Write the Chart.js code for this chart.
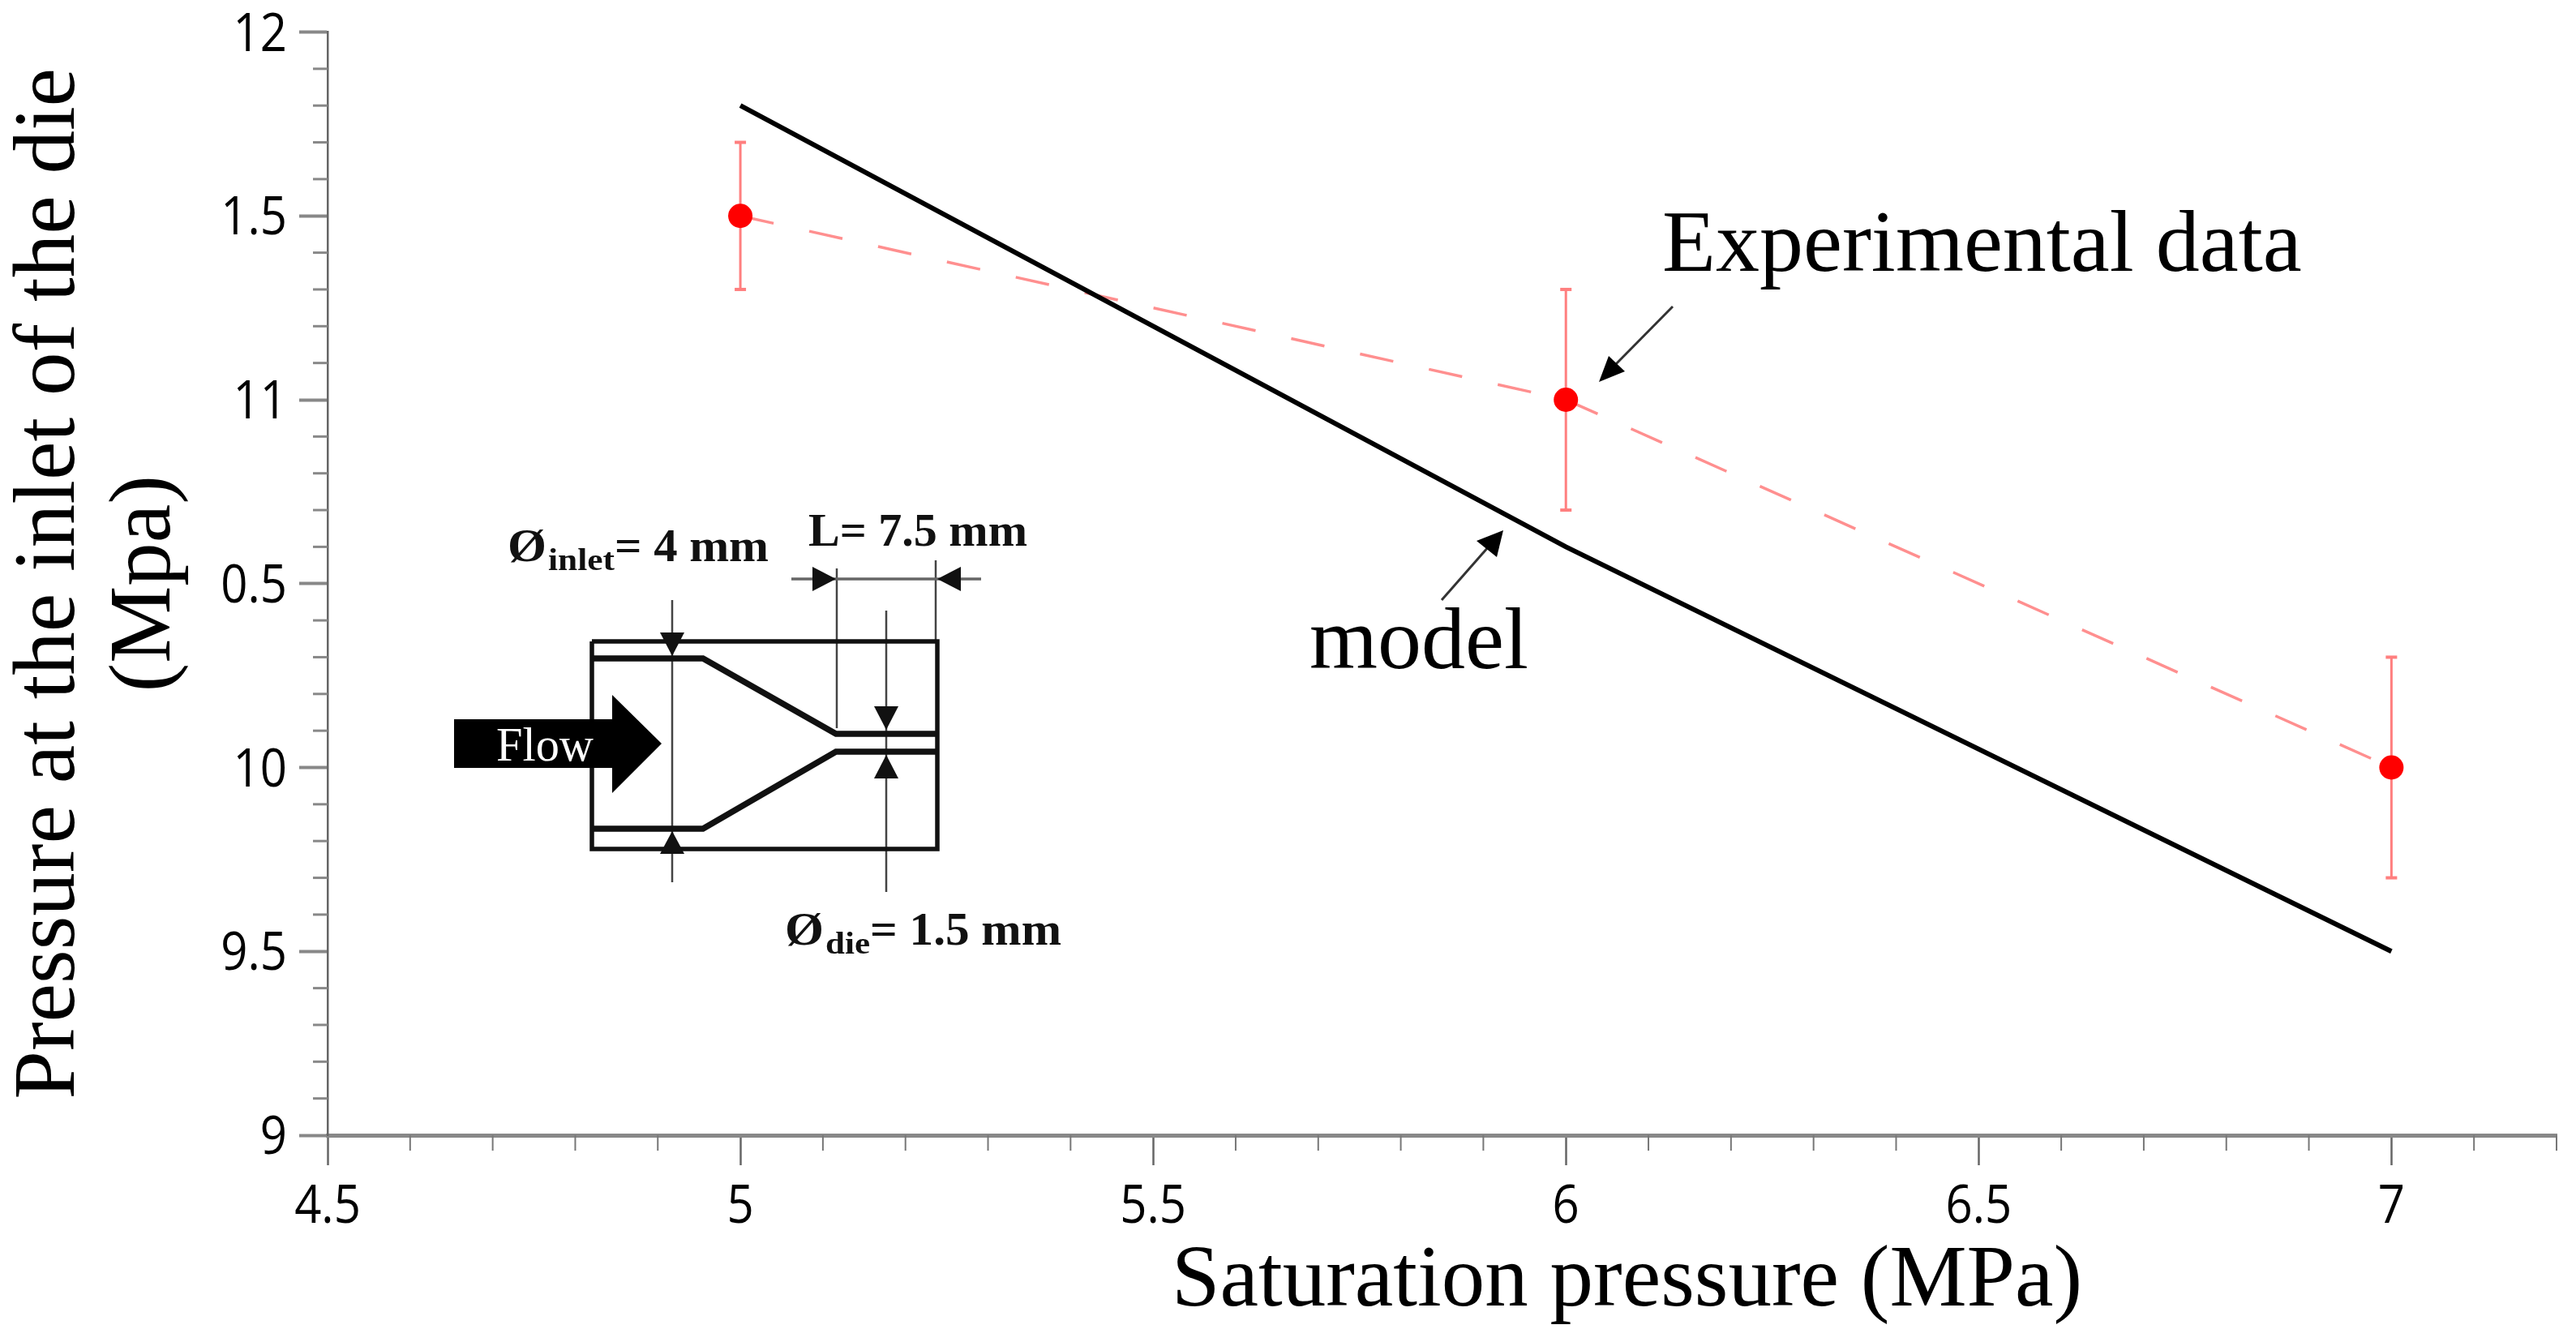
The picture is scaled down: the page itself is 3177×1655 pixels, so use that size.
<!DOCTYPE html>
<html>
<head>
<meta charset="utf-8">
<title>Pressure at the inlet of the die</title>
<script src="https://cdn.jsdelivr.net/npm/chart.js@4/dist/chart.umd.min.js"></script>
<style>
  html, body { margin: 0; padding: 0; background: #fff; overflow: hidden; }
  canvas { display: block; }
</style>
</head>
<body>
<canvas id="chart" width="3177" height="1655"></canvas>
<script>
// values
const saturationPressure = [5, 6, 7];
const modelValues = [11.8, 10.6, 9.5];
const experimentalValues = [11.5, 11, 10];
const experimentalLow = [11.3, 10.7, 9.7];
const experimentalHigh = [11.7, 11.3, 10.3];

const xTickValues = [4.5, 5, 5.5, 6, 6.5, 7];
const xTickLabels = ["4.5", "5", "5.5", "6", "6.5", "7"];
const xMinorTicks = [4.6, 4.7, 4.8, 4.9, 5.1, 5.2, 5.3, 5.4, 5.6, 5.7, 5.8, 5.9, 6.1, 6.2, 6.3, 6.4, 6.6, 6.7, 6.8, 6.9, 7.1, 7.2];
const yTickValues = [9, 9.5, 10, 10.5, 11, 11.5, 12];
const yTickLabels = ["9", "9.5", "10", "0.5", "11", "1.5", "12"]; // the source really prints 0.5 and 1.5 here
const yMinorTicks = [9.1, 9.2, 9.3, 9.4, 9.6, 9.7, 9.8, 9.9, 10.1, 10.2, 10.3, 10.4, 10.6, 10.7, 10.8, 10.9, 11.1, 11.2, 11.3, 11.4, 11.6, 11.7, 11.8, 11.9];

const serif = '"Liberation Serif", serif';
const tickFont = '66px "Open Sans", sans-serif';
const tickSqueeze = 0.88; // no narrow face installed, so squeeze the labels sideways

function toPoints(xs, ys) {
  return xs.map((x, i) => ({ x: x, y: ys[i] }));
}

function line(ctx, pts, width, color) {
  ctx.beginPath();
  pts.forEach((p, i) => (i ? ctx.lineTo(p[0], p[1]) : ctx.moveTo(p[0], p[1])));
  ctx.lineWidth = width;
  ctx.strokeStyle = color;
  ctx.stroke();
}

function filled(ctx, pts, color) {
  ctx.beginPath();
  pts.forEach((p, i) => (i ? ctx.lineTo(p[0], p[1]) : ctx.moveTo(p[0], p[1])));
  ctx.closePath();
  ctx.fillStyle = color;
  ctx.fill();
}

// text squeezed or stretched sideways to a known width
function fitted(ctx, text, x, baseline, width, font, color) {
  ctx.save();
  ctx.font = font;
  ctx.fillStyle = color;
  ctx.textAlign = "left";
  ctx.textBaseline = "alphabetic";
  const natural = ctx.measureText(text).width;
  ctx.translate(x, baseline);
  ctx.scale(width / natural, 1);
  ctx.fillText(text, 0, 0);
  ctx.restore();
}

function tickLabel(ctx, text, x, y, align) {
  ctx.save();
  ctx.font = tickFont;
  ctx.fillStyle = "#000";
  ctx.textAlign = align;
  ctx.textBaseline = "alphabetic";
  ctx.translate(x, y);
  ctx.scale(tickSqueeze, 1);
  ctx.fillText(text, 0, 0);
  ctx.restore();
}

// minor ticks are shorter than the major ones, the scale can't do both
const axisExtras = {
  id: "axisExtras",
  beforeDatasetsDraw(chart) {
    const ctx = chart.ctx;
    const sx = chart.scales.x;
    const sy = chart.scales.y;
    xMinorTicks.forEach((v) => {
      const px = sx.getPixelForValue(v);
      line(ctx, [[px, sx.top], [px, sx.top + 19]], 2, "#777");
    });
    yMinorTicks.forEach((v) => {
      const py = sy.getPixelForValue(v);
      line(ctx, [[sy.right - 18, py], [sy.right, py]], 3, "#888");
    });
    xTickValues.forEach((v, i) => {
      tickLabel(ctx, xTickLabels[i], sx.getPixelForValue(v), 1508, "center");
    });
    yTickValues.forEach((v, i) => {
      tickLabel(ctx, yTickLabels[i], 354, sy.getPixelForValue(v) + 23, "right");
    });
  },
};

const errorBars = {
  id: "errorBars",
  beforeDatasetsDraw(chart) {
    const ctx = chart.ctx;
    const sx = chart.scales.x;
    const sy = chart.scales.y;
    saturationPressure.forEach((v, i) => {
      const px = sx.getPixelForValue(v);
      const lo = sy.getPixelForValue(experimentalLow[i]);
      const hi = sy.getPixelForValue(experimentalHigh[i]);
      line(ctx, [[px, lo], [px, hi]], 3, "#ff7f7f");
      line(ctx, [[px - 7, lo], [px + 7, lo]], 4, "#ff7f7f");
      line(ctx, [[px - 7, hi], [px + 7, hi]], 4, "#ff7f7f");
    });
  },
};

// the die sketch and the labels laid over the plot
function drawSketch(ctx) {
  const ink = "#111";
  const thin = "#444";
  ctx.save();
  ctx.lineJoin = "miter";

  // thin dimension lines go under the walls
  line(ctx, [[829, 740], [829, 1088]], 2.5, thin);
  line(ctx, [[1032, 701], [1032, 898]], 2.5, thin);
  line(ctx, [[1154, 691], [1154, 790]], 2.5, thin);
  line(ctx, [[976, 714], [1210, 714]], 3.5, "#666");
  line(ctx, [[1093, 753], [1093, 1100]], 2.5, thin);

  // die body
  line(ctx, [[730, 791], [1156, 791], [1156, 1047], [730, 1047], [730, 791]], 5.5, ink);
  line(ctx, [[730, 812], [867, 812], [1031, 905], [1156, 905]], 7.5, ink);
  line(ctx, [[730, 1022], [867, 1022], [1031, 927], [1156, 927]], 7.5, ink);

  // dimension arrow heads
  filled(ctx, [[814, 780], [844, 780], [829, 809]], ink);
  filled(ctx, [[814, 1053], [844, 1053], [829, 1025]], ink);
  filled(ctx, [[1002, 699], [1002, 729], [1031, 714]], ink);
  filled(ctx, [[1185, 699], [1185, 729], [1156, 714]], ink);
  filled(ctx, [[1078, 871], [1108, 871], [1093, 900]], ink);
  filled(ctx, [[1078, 960], [1108, 960], [1093, 931]], ink);

  // flow arrow
  filled(ctx, [[560, 887], [755, 887], [755, 857], [816, 917], [755, 978], [755, 947], [560, 947]], "#000");
  fitted(ctx, "Flow", 612, 938, 120, "60px " + serif, "#fff");

  // dimensions
  const bold = "bold 56px " + serif;
  const sub = "bold 38px " + serif;
  fitted(ctx, "Ø", 626, 692, 48, bold, ink);
  fitted(ctx, "inlet", 676, 703, 82, sub, ink);
  fitted(ctx, "= 4 mm", 758, 692, 190, bold, ink);
  fitted(ctx, "L= 7.5 mm", 997, 673, 270, bold, ink);
  fitted(ctx, "Ø", 968, 1165, 48, bold, ink);
  fitted(ctx, "die", 1018, 1176, 55, sub, ink);
  fitted(ctx, "= 1.5 mm", 1073, 1165, 236, bold, ink);
  ctx.restore();
}

function drawLabels(ctx) {
  ctx.save();
  ctx.fillStyle = "#000";
  ctx.textBaseline = "alphabetic";
  ctx.textAlign = "left";
  ctx.font = "108px " + serif;
  ctx.fillText("Experimental data", 2050, 334);
  ctx.fillText("model", 1615, 824);
  ctx.font = "107px " + serif;
  ctx.fillText("Saturation pressure (MPa)", 1445, 1610);

  // pointer arrows
  line(ctx, [[2063, 378], [1990, 452]], 3, "#333");
  filled(ctx, [[1972, 471], [1984, 439], [2004, 458]], "#000");
  line(ctx, [[1778, 740], [1836, 674]], 3, "#333");
  filled(ctx, [[1854, 654], [1821, 667], [1846, 687]], "#000");
  ctx.restore();
}

const overlay = {
  id: "overlay",
  afterDraw(chart) {
    drawSketch(chart.ctx);
    drawLabels(chart.ctx);
  },
};

new Chart(document.getElementById("chart"), {
  type: "scatter",
  data: {
    datasets: [
      {
        label: "Experimental data",
        data: toPoints(saturationPressure, experimentalValues),
        showLine: true,
        borderColor: "#ff8f8f",
        borderWidth: 3.5,
        borderDash: [42, 45],
        pointRadius: 15,
        pointBackgroundColor: "#ff0000",
        pointBorderWidth: 0,
        order: 2,
      },
      {
        label: "model",
        data: toPoints(saturationPressure, modelValues),
        showLine: true,
        borderColor: "#000",
        borderWidth: 6,
        pointRadius: 0,
        order: 1,
      },
    ],
  },
  plugins: [axisExtras, errorBars, overlay],
  options: {
    responsive: false,
    animation: false,
    layout: { padding: { top: 39.5, right: 24, left: 0, bottom: 0 } },
    plugins: { legend: { display: false }, tooltip: { enabled: false } },
    scales: {
      x: {
        type: "linear",
        min: 4.5,
        max: 7.2,
        afterFit(scale) { scale.height = 255; },
        afterBuildTicks(scale) { scale.ticks = xTickValues.map((v) => ({ value: v })); },
        border: { color: "#888", width: 5 },
        grid: { drawOnChartArea: false, tickLength: 37, tickColor: "#666", tickWidth: 2.5 },
        ticks: { display: false },
      },
      y: {
        min: 9,
        max: 12,
        afterFit(scale) { scale.width = 404; },
        afterBuildTicks(scale) { scale.ticks = yTickValues.map((v) => ({ value: v })); },
        border: { color: "#666", width: 2.5 },
        grid: { drawOnChartArea: false, tickLength: 35, tickColor: "#888", tickWidth: 4 },
        title: {
          display: true,
          text: ["Pressure at the inlet of the die", "(Mpa)"],
          color: "#000",
          font: { family: serif, size: 107, lineHeight: 1.1 },
          padding: { top: 4, bottom: 0 },
        },
        ticks: { display: false },
      },
    },
  },
});
</script>
</body>
</html>
